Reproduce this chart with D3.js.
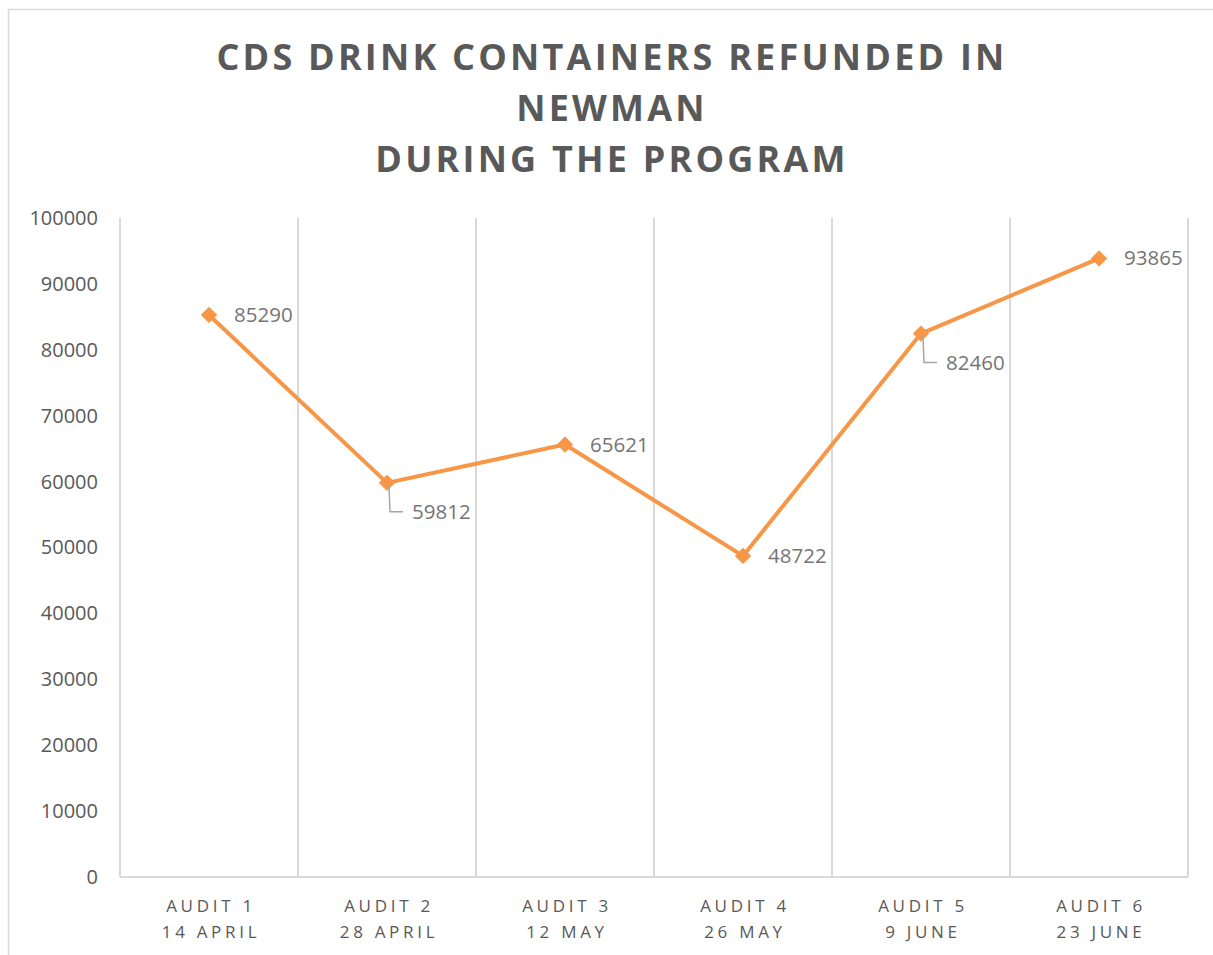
<!DOCTYPE html>
<html>
<head>
<meta charset="utf-8">
<script src="https://cdn.jsdelivr.net/npm/d3@7"></script>
<style>
  body { margin: 0; background: #fff; }
  svg { display: block; font-family: 'Open Sans', sans-serif; }
</style>
</head>
<body>
<svg id="chart" width="1213" height="955"></svg>
<script>
// Data
const titleLines = ['CDS DRINK CONTAINERS REFUNDED IN', 'NEWMAN', 'DURING THE PROGRAM']
const audits = ['AUDIT 1', 'AUDIT 2', 'AUDIT 3', 'AUDIT 4', 'AUDIT 5', 'AUDIT 6']
const dates = ['14 APRIL', '28 APRIL', '12 MAY', '26 MAY', '9 JUNE', '23 JUNE']
const refunded = [85290, 59812, 65621, 48722, 82460, 93865]
const yTicks = [0, 10000, 20000, 30000, 40000, 50000, 60000, 70000, 80000, 90000, 100000]
// label placement: 'right' or 'below' (with leader line)
const labelPos = ['right', 'below', 'right', 'right', 'below', 'right']

const orange = '#f79646'
const grid = '#d9d9d9'
const textGrey = '#595959'

const dim = { left: 120, right: 1188, top: 218, bottom: 877 }
const svg = d3.select('#chart')

// chart border
svg.append('rect')
  .attr('x', 8.5).attr('y', 9.5)
  .attr('width', 1220).attr('height', 960)
  .attr('fill', 'none').attr('stroke', grid).attr('stroke-width', 1.5)

// title
svg.append('text')
  .attr('text-anchor', 'middle')
  .attr('fill', textGrey)
  .style('font-size', '36px').style('font-weight', 'bold').style('letter-spacing', '3.2px')
  .selectAll('tspan')
  .data(titleLines)
  .join('tspan')
  .attr('x', 612)
  .attr('y', (d, i) => 70 + i * 51)
  .text(d => d)

const x = d3.scaleBand().domain(audits).range([dim.left, dim.right]).padding(0)
const y = d3.scaleLinear().domain([0, 100000]).range([dim.bottom, dim.top])

// vertical gridlines at category boundaries
const bounds = audits.map(a => x(a)).concat([dim.right])
svg.append('g').selectAll('line')
  .data(bounds)
  .join('line')
  .attr('x1', d => d).attr('x2', d => d)
  .attr('y1', dim.top).attr('y2', dim.bottom)
  .attr('stroke', grid).attr('stroke-width', 2)

// bottom axis line
svg.append('line')
  .attr('x1', dim.left).attr('x2', dim.right)
  .attr('y1', dim.bottom).attr('y2', dim.bottom)
  .attr('stroke', grid).attr('stroke-width', 2)

// y axis labels
const yAxis = d3.axisLeft(y).tickValues(yTicks).tickSize(0).tickPadding(22).tickFormat(d3.format('d'))
const gy = svg.append('g').attr('transform', `translate(${dim.left},0)`).call(yAxis)
gy.select('.domain').remove()
gy.selectAll('text')
  .attr('fill', textGrey)
  .style('font-size', '20px')
  .style('font-family', "'Open Sans', sans-serif")

// x axis labels
const xl = svg.append('g')
audits.forEach((a, i) => {
  const t = xl.append('text')
    .attr('text-anchor', 'middle')
    .attr('fill', textGrey)
    .style('font-size', '17px').style('letter-spacing', '3.7px')
  t.append('tspan').attr('x', x(a) + x.bandwidth() / 2 + 2).attr('y', 912).text(a)
  t.append('tspan').attr('x', x(a) + x.bandwidth() / 2 + 2).attr('y', 938).text(dates[i])
})

// line
const cx = (d, i) => x(audits[i]) + x.bandwidth() / 2
const line = d3.line()
  .x(cx)
  .y(d => y(d))
svg.append('path')
  .datum(refunded)
  .attr('d', line)
  .attr('fill', 'none')
  .attr('stroke', orange)
  .attr('stroke-width', 4)
  .attr('stroke-linejoin', 'round')

// markers
svg.append('g').selectAll('path')
  .data(refunded)
  .join('path')
  .attr('transform', (d, i) => `translate(${cx(d, i)},${y(d)})`)
  .attr('d', d3.symbol(d3.symbolDiamond2, 150))
  .attr('fill', orange)
  .attr('stroke', orange)
  .attr('stroke-width', 1)

// data labels
const lab = svg.append('g')
refunded.forEach((v, i) => {
  const px = cx(v, i)
  const py = y(v)
  if (labelPos[i] === 'right') {
    lab.append('text')
      .attr('x', px + 25).attr('y', py + 7)
      .attr('fill', '#757575')
      .style('font-size', '20.5px')
      .text(v)
  } else {
    lab.append('path')
      .attr('d', `M${px + 2},${py + 3} L${px + 3},${py + 29} L${px + 16},${py + 29}`)
      .attr('fill', 'none').attr('stroke', '#a6a6a6').attr('stroke-width', 1.5)
    lab.append('text')
      .attr('x', px + 25).attr('y', py + 36)
      .attr('fill', '#757575')
      .style('font-size', '20.5px')
      .text(v)
  }
})
</script>
</body>
</html>
